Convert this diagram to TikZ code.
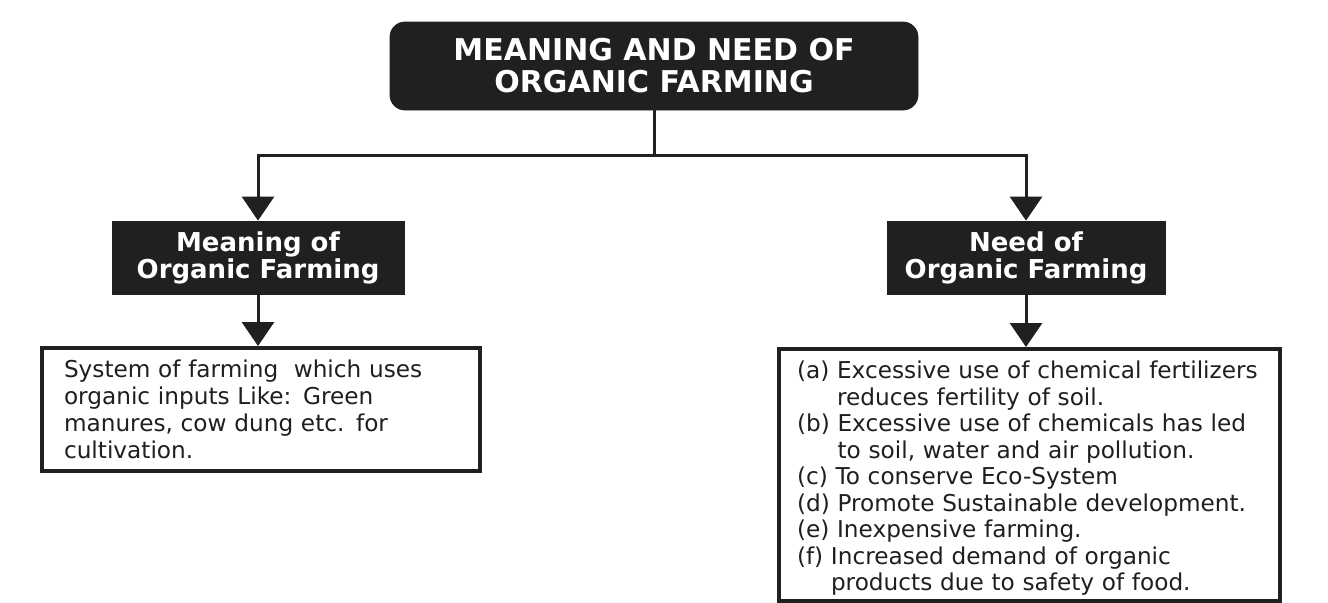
\documentclass[tikz,border=0pt]{standalone}
\usepackage{fontspec}
\setmainfont{DejaVu Sans}
\usepackage{tikz}
\usetikzlibrary{
	arrows.meta,		% arrow tips
	positioning,		% relative placement
}
\definecolor{boxblack}{HTML}{221F1F}
\tikzset{
	titlebox/.style={draw=boxblack, fill=boxblack, text=white, rounded corners=7.5pt,
		minimum width=264pt, minimum height=44pt, align=center, inner sep=0pt,
		font=\bfseries\fontsize{15}{16}\selectfont},
	headbox/.style={draw=boxblack, fill=boxblack, text=white,
		minimum height=36.5pt, align=center, inner sep=0pt,
		font=\bfseries\fontsize{13}{13.5}\selectfont},
	textbox/.style={draw=boxblack, line width=2pt, fill=white, text=black!88,
		align=left, anchor=north west, inner ysep=0pt,
		font=\fontsize{11.6}{13.6}\selectfont},
	conn/.style={draw=boxblack, line width=1.5pt, -{Triangle[width=16pt,length=12pt]}},
}
\begin{document}
\begin{tikzpicture}[x=0.5pt, y=-0.5pt]
	\useasboundingbox (0,0) rectangle (1328,602);
	% title
	\node[titlebox] (title) at (654,66) {MEANING AND NEED OF\\ORGANIC FARMING};
	\coordinate (split) at (654,155);
	% two heads
	\node[headbox, minimum width=146pt] (mean) at (258,257.5) {Meaning of\\Organic Farming};
	\node[headbox, minimum width=139pt] (need) at (1026,257.5) {Need of\\Organic Farming};
	% text boxes
	\node[textbox, inner xsep=11pt, text width=197pt, minimum height=61.5pt] (meantext) at (40,346)
		{System of farming\ \ which uses\\organic inputs Like: Green\\manures, cow dung etc. for\\cultivation.};
	\node[textbox, inner xsep=9pt, text width=232.5pt, minimum height=126pt,
		font=\fontsize{11.6}{13.25}\selectfont] (needtext) at (777,347)
		{\rule{0pt}{12pt}(a) Excessive use of chemical fertilizers\\
		\phantom{(a) }reduces fertility of soil.\\
		(b) Excessive use of chemicals has led\\
		\phantom{(b) }to soil, water and air pollution.\\
		(c) To conserve Eco-System\\
		(d) Promote Sustainable development.\\
		(e) Inexpensive farming.\\
		(f) Increased demand of organic\\
		\phantom{(f) }products due to safety of food.};
	% connectors
	\draw[line width=1.5pt, boxblack] (title) -- (split);
	\draw[conn] (split) -| (mean);
	\draw[conn] (split) -| (need);
	\draw[conn] (mean) -- (meantext.north -| mean);
	\draw[conn] (need) -- (needtext.north -| need);
\end{tikzpicture}
\end{document}
